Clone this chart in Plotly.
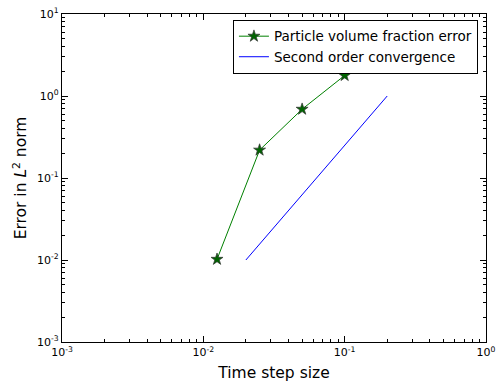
import plotly.graph_objects as go

dt = [0.0125, 0.025, 0.05, 0.1]
err = [0.0102, 0.219, 0.69, 1.78]
ref_x = [0.02, 0.2]
ref_y = [0.01, 1.0]

x_tickvals = [1e-3, 1e-2, 1e-1, 1e0]
x_ticktext = ["10<sup>-3</sup>", "10<sup>-2</sup>", "10<sup>-1</sup>", "10<sup>0</sup>"]
y_tickvals = [1e-3, 1e-2, 1e-1, 1e0, 1e1]
y_ticktext = ["10<sup>-3</sup>", "10<sup>-2</sup>", "10<sup>-1</sup>", "10<sup>0</sup>", "10<sup>1</sup>"]

def minor_vals(lo, hi):
    vals = []
    for e in range(lo, hi):
        for m in range(2, 10):
            vals.append(m * 10.0 ** e)
    return vals

fig = go.Figure()
fig.add_trace(go.Scatter(
    x=dt, y=err, mode="lines+markers", name="Particle volume fraction error",
    line=dict(color="#008000", width=1),
    marker=dict(symbol="star", size=9, color="#006400", line=dict(color="#333333", width=0.7)),
))
fig.add_trace(go.Scatter(
    x=ref_x, y=ref_y, mode="lines", name="Second order convergence",
    line=dict(color="#0000ff", width=1),
))

axis_common = dict(
    type="log", showgrid=False, zeroline=False, showline=True, linecolor="black",
    linewidth=1.2, mirror="ticks", ticks="inside", ticklen=6, tickcolor="black",
    tickfont=dict(family="DejaVu Sans", size=11, color="black"),
    automargin=False,
)

fig.update_layout(
    width=497, height=383,
    margin=dict(l=62, r=11, t=14, b=41),
    plot_bgcolor="white", paper_bgcolor="white",
    font=dict(family="DejaVu Sans", color="black"),
    showlegend=True,
    legend=dict(
        x=0.981, y=0.982, xanchor="right", yanchor="top",
        bgcolor="white", bordercolor="black", borderwidth=1,
        font=dict(family="DejaVu Sans", size=13.5),
        tracegroupgap=0, itemwidth=30,
    ),
    xaxis=dict(
        **axis_common, range=[-3, 0],
        tickvals=x_tickvals, ticktext=x_ticktext,
        minor=dict(ticks="inside", ticklen=3, tickcolor="black", showgrid=False,
                   tickvals=minor_vals(-3, 0)),
        title=dict(text="Time step size", font=dict(size=15.5), standoff=8),
    ),
    yaxis=dict(
        **axis_common, range=[-3, 1],
        tickvals=y_tickvals, ticktext=y_ticktext,
        minor=dict(ticks="inside", ticklen=3, tickcolor="black", showgrid=False,
                   tickvals=minor_vals(-3, 1)),
        title=dict(text="Error in <i>L</i><sup>2</sup> norm", font=dict(size=15.5), standoff=6),
    ),
)

fig.write_html("out.html")
